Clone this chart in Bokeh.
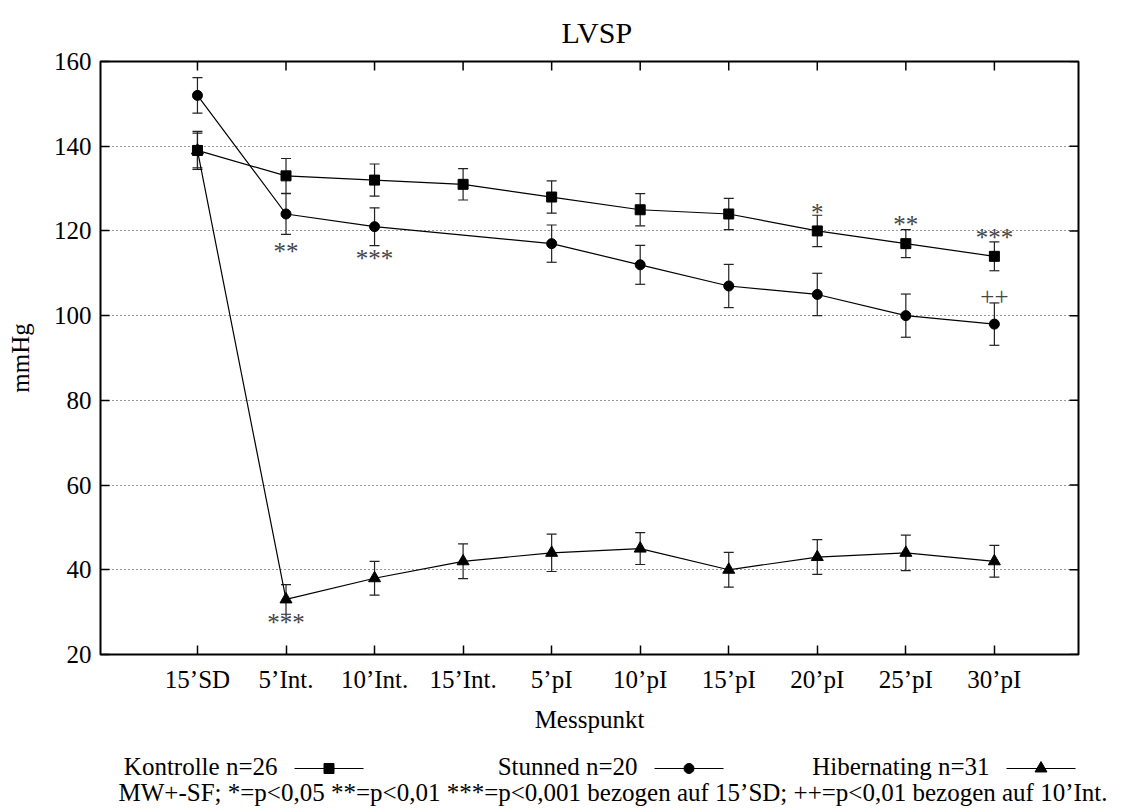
import math
from bokeh.plotting import figure
from bokeh.models import (Range1d, FixedTicker, ColumnDataSource,
                          Whisker, TeeHead, Title)
from bokeh.layouts import column
from bokeh.embed import file_html
from bokeh.resources import INLINE
from bokeh.core.properties import value

# ---------------- data ----------------
labels = ["15’SD", "5’Int.", "10’Int.", "15’Int.", "5’pI", "10’pI",
          "15’pI", "20’pI", "25’pI", "30’pI"]
y_ticks = [20, 40, 60, 80, 100, 120, 140, 160]

kontrolle = [139, 133, 132, 131, 128, 125, 124, 120, 117, 114]
kontrolle_se = [4.1, 4.1, 3.8, 3.7, 3.8, 3.8, 3.7, 3.7, 3.3, 3.4]

stunned = [152, 124, 121, None, 117, 112, 107, 105, 100, 98]
stunned_se = [4.2, 4.8, 4.45, None, 4.4, 4.6, 5.1, 5.0, 5.1, 5.0]

hibernating = [139, 33, 38, 42, 44, 45, 40, 43, 44, 42]
hibernating_se = [4.5, 3.5, 4.0, 4.1, 4.4, 3.75, 4.1, 4.1, 4.2, 3.75]

sig_text = ["**", "***", "***", "*", "**", "***", "++"]
sig_x = [1, 2, 1, 7, 8, 9, 9]
sig_y = [115.25, 113.6, 27.55, 124.45, 121.6, 118.45, 104.6]

legend_names = ["Kontrolle n=26", "Stunned n=20", "Hibernating n=31"]
legend_markers = ["square", "circle", "triangle"]
footnote = ("MW+-SF; *=p<0,05 **=p<0,01 ***=p<0,001 bezogen auf 15’SD; "
            "++=p<0,01 bezogen auf 10’Int.")

FONT = "Liberation Serif"
FS = "25px"
W = 1114
H_MAIN = 736
H_FOOT = 76
F_LEFT, F_RIGHT = 100, 1078
X_START, X_END = -1.095, 9.95
Y_START, Y_END = 20, 160

# ---------------- main plot ----------------
p = figure(width=W, height=H_MAIN, x_range=Range1d(X_START, X_END),
           y_range=Range1d(Y_START, Y_END), output_backend="svg",
           toolbar_location=None, title=None,
           min_border_left=F_LEFT, min_border_right=W - F_RIGHT,
           min_border_top=61, min_border_bottom=82)
p.background_fill_color = "white"
p.border_fill_color = "white"
p.outline_line_color = "black"
p.outline_line_width = 2

p.title = Title(text="LVSP", align="left", offset=461, standoff=26,
                text_font=FONT, text_font_size="30px", text_color="black",
                text_font_style="normal")

xt = list(range(len(labels)))
bottom_axis = p.below[0]
left_axis = p.left[0]
bottom_axis.ticker = FixedTicker(ticks=xt)
bottom_axis.major_label_overrides = {i: labels[i] for i in xt}
left_axis.ticker = FixedTicker(ticks=y_ticks)
bottom_axis.major_label_standoff = 11
left_axis.major_label_standoff = 9
bottom_axis.axis_label = "Messpunkt"
bottom_axis.axis_label_standoff = 10
left_axis.axis_label = "mmHg"
left_axis.axis_label_standoff = 17

for ax in [bottom_axis, left_axis]:
    ax.major_tick_in = 9
    ax.major_tick_out = 0
    ax.minor_tick_in = 0
    ax.minor_tick_out = 0
    ax.major_tick_line_width = 1.5
    ax.major_tick_line_color = "black"
    ax.axis_line_color = None
    ax.major_label_text_font = FONT
    ax.major_label_text_font_size = FS
    ax.major_label_text_color = "black"
    ax.axis_label_text_font = FONT
    ax.axis_label_text_font_size = FS
    ax.axis_label_text_font_style = "normal"
    ax.axis_label_text_color = "black"

# mirrored inward ticks on the top and right edges
p.ray(x=xt, y=[Y_END] * len(xt), length=9, length_units="screen",
      angle=-math.pi / 2, line_color="black", line_width=1.5)
p.ray(x=[X_END] * len(y_ticks), y=y_ticks, length=9, length_units="screen",
      angle=math.pi, line_color="black", line_width=1.5)

p.xgrid.visible = False
p.ygrid.ticker = FixedTicker(ticks=y_ticks)
p.ygrid.grid_line_color = "black"
p.ygrid.grid_line_dash = "1 3"
p.ygrid.grid_line_width = 1
p.ygrid.grid_line_alpha = 0.8


def add_series(vals, se, marker, size):
    idx = [i for i, v in enumerate(vals) if v is not None]
    y = [vals[i] for i in idx]
    lo = [vals[i] - se[i] for i in idx]
    hi = [vals[i] + se[i] for i in idx]
    src = ColumnDataSource(dict(x=idx, y=y, lo=lo, hi=hi))
    w = Whisker(source=src, base="x", upper="hi", lower="lo",
                line_color="#222222", line_width=1.2,
                upper_head=TeeHead(size=10, line_color="#222222", line_width=1.2),
                lower_head=TeeHead(size=10, line_color="#222222", line_width=1.2))
    p.add_layout(w)
    p.line("x", "y", source=src, line_color="black", line_width=1.2)
    p.scatter("x", "y", source=src, marker=marker, size=size,
              fill_color="black", line_color="black")


add_series(hibernating, hibernating_se, "triangle", 12)
add_series(stunned, stunned_se, "circle", 10)
add_series(kontrolle, kontrolle_se, "square", 10)

p.text(x=sig_x, y=sig_y, text=sig_text, text_align="center",
       text_baseline="alphabetic", text_font=value(FONT),
       text_font_size=FS, text_color="#444444")

# ---------------- footer (legend + note) ----------------
FOOT_TOP = H_MAIN
FOOT_FRAME_BOTTOM = 781
f = figure(width=W, height=H_FOOT, x_range=Range1d(F_LEFT, F_RIGHT),
           y_range=Range1d(FOOT_FRAME_BOTTOM, FOOT_TOP),
           output_backend="svg", toolbar_location=None, title=None,
           x_axis_type=None, y_axis_type=None,
           min_border_left=F_LEFT, min_border_right=W - F_RIGHT,
           min_border_top=0, min_border_bottom=FOOT_TOP + H_FOOT - FOOT_FRAME_BOTTOM)
f.grid.visible = False
f.outline_line_color = None
f.background_fill_color = "white"
f.border_fill_color = "white"

text_ends = [277, 637, 989]
f.text(x=text_ends, y=[766] * 3, text=legend_names, text_align="right",
       text_baseline="alphabetic", text_font=value(FONT),
       text_font_size=FS, text_color="black")
for te, mk in zip(text_ends, legend_markers):
    f.line([te + 17, te + 86], [768, 768], line_color="black", line_width=1.2)
    f.scatter([te + 51.5], [768], marker=mk, size=10 if mk != "triangle" else 12,
              fill_color="black", line_color="black")

f.add_layout(Title(text=footnote, align="left", offset=18, standoff=-10,
                   text_font=FONT, text_font_size=FS, text_color="black",
                   text_font_style="normal"), "below")

layout = column(p, f, spacing=0)
open("out.html", "w").write(file_html(layout, INLINE))
